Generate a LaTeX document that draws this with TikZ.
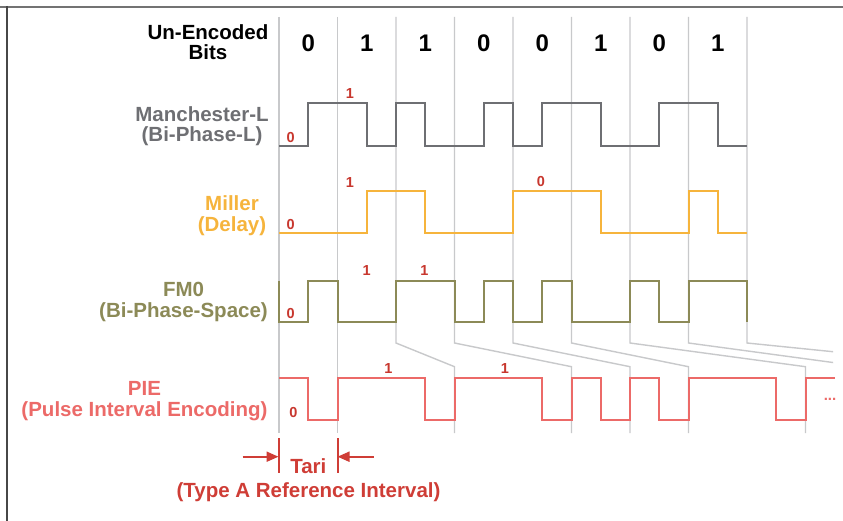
\documentclass[tikz,border=0pt]{standalone}
\usepackage{fontspec}
\setmainfont{Liberation Sans}
\usetikzlibrary{arrows.meta}

\definecolor{gridgray}{HTML}{C8C9CB}
\definecolor{mancol}{HTML}{6E6F73}
\definecolor{milcol}{HTML}{F6B43C}
\definecolor{fmcol}{HTML}{8C8A57}
\definecolor{piecol}{HTML}{EC6A68}
\definecolor{markred}{HTML}{C8372E}
\definecolor{tarired}{HTML}{CF3D36}

\tikzset{
  gridline/.style={draw=gridgray, line width=1.4pt},
  sig/.style={line width=2pt, line join=miter},
  bitmark/.style={font=\bfseries\fontsize{14.5}{14.5}\selectfont, text=markred, inner sep=0pt},
  rowlbl/.style={font=\bfseries\fontsize{20.5}{20.5}\selectfont, anchor=base, inner sep=0pt},
  bitdigit/.style={font=\bfseries\fontsize{24}{24}\selectfont, anchor=base, inner sep=0pt},
  tarilbl/.style={font=\bfseries\fontsize{20.5}{20.5}\selectfont, anchor=base, inner sep=0pt, text=tarired},
  tariarrow/.style={draw=tarired, line width=2pt, -{Triangle[length=12pt,width=10pt]}},
  taribar/.style={draw=tarired, line width=2pt},
}

\begin{document}
\begin{tikzpicture}[x=1pt,y=-1pt]
\useasboundingbox (0,0) rectangle (843,521);
\fill[white] (0,0) rectangle (843,521);

% partial frame
\draw[line width=2pt, color=black!55] (0,7) -- (843,7);
\draw[line width=2pt, color=black!72] (7.3,6) -- (7.3,521);

% bit-cell grid and its skew onto the PIE time base (half-bit units)
\begin{scope}[xshift=279pt, x=29.25pt]
  \clip (-1,0) rectangle (18.94,521);
  \foreach \t/\b in {0/0, 2/2, 4/6, 6/10, 8/12, 10/14, 12/18, 14/20, 16/24}
    \draw[gridline] (\t,17) -- (\t,343) -- (\b,366.7) -- (\b,433);
\end{scope}

% waveforms (half-bit units)
\begin{scope}[xshift=279pt, x=29.25pt]
  % Manchester-L
  \draw[sig, mancol] (0,145.7) -| (1,103.3) -| (3,145.7) -| (4,103.3) -| (5,145.7)
    -| (7,103.3) -| (8,145.7) -| (9,103.3) -| (11,145.7) -| (13,103.3) -| (15,145.7) -- (16,145.7);
  % Miller
  \draw[sig, milcol] (0,233.3) -| (3,191) -| (5,233.3) -| (8,191) -| (11,233.3)
    -| (14,191) -| (15,233.3) -- (16,233.3);
  % FM0
  \draw[sig, fmcol] (0,280.7) -- (0,322.3) -| (1,280.7) -| (2,322.3) -| (4,280.7) -| (6,322.3)
    -| (7,280.7) -| (8,322.3) -| (9,280.7) -| (10,322.3) -| (12,280.7) -| (13,322.3)
    -| (14,280.7) -| (16,322.3);
  % PIE
  \draw[sig, piecol] (0,377.7) -| (1,420.3) -| (2,377.7) -| (5,420.3) -| (6,377.7)
    -| (9,420.3) -| (10,377.7) -| (11,420.3) -| (12,377.7) -| (13,420.3) -| (14,377.7)
    -| (17,420.3) -| (18,377.7) -- (19,377.7);
\end{scope}

% header row
\node[rowlbl] (hdr1) at (208,40) {Un-Encoded};
\node[rowlbl] (hdr2) at (208,60) {Bits};
\foreach \i/\v in {0/0, 1/1, 2/1, 3/0, 4/0, 5/1, 6/0, 7/1}
  \node[bitdigit] (bit\i) at (308.25+58.5*\i, 51.7) {\v};

% row labels
\node[rowlbl, text=mancol] (man1) at (202,121.7) {Manchester-L};
\node[rowlbl, text=mancol] (man2) at (202,141.7) {(Bi-Phase-L)};
\node[rowlbl, text=milcol] (mil1) at (232,210.7) {Miller};
\node[rowlbl, text=milcol] (mil2) at (232,231.2) {(Delay)};
\node[rowlbl, text=fmcol] (fm1) at (183.5,296.7) {FM0};
\node[rowlbl, text=fmcol] (fm2) at (183.5,317.7) {(Bi-Phase-Space)};
\node[rowlbl, text=piecol] (pie1) at (144.5,395) {PIE};
\node[rowlbl, text=piecol] (pie2) at (144.5,416.2) {(Pulse Interval Encoding)};

% symbol markers
\node[bitmark] (m0) at (290.7,137.7) {0};
\node[bitmark] (m1) at (350,93.3) {1};
\node[bitmark] (d0) at (290.7,225) {0};
\node[bitmark] (d1) at (350,182.7) {1};
\node[bitmark] (d2) at (541,181.7) {0};
\node[bitmark] (f0) at (290.7,314) {0};
\node[bitmark] (f1) at (366.7,270.7) {1};
\node[bitmark] (f2) at (424.3,270.7) {1};
\node[bitmark] (p0) at (293.3,412.3) {0};
\node[bitmark] (p1) at (388.3,368.3) {1};
\node[bitmark] (p2) at (505,368.3) {1};
\node[font=\bfseries\fontsize{15}{15}\selectfont, text=piecol, inner sep=0pt] (more) at (830,399) {...};

% Tari interval
\coordinate (barL) at (278.5,456.7);
\coordinate (barR) at (337.5,456.7);
\coordinate (arrL) at (242.5,456.7);
\coordinate (arrR) at (373.5,456.7);
\draw[taribar] (278.5,438) -- (278.5,473);
\draw[taribar] (337.5,438) -- (337.5,473);
\draw[tariarrow] (arrL) -- (barL);
\draw[tariarrow] (arrR) -- (barR);
\node[tarilbl] (tari) at (308.3,473) {Tari};
\node[tarilbl] (tarisub) at (308.5,497) {(Type A Reference Interval)};
\end{tikzpicture}
\end{document}
